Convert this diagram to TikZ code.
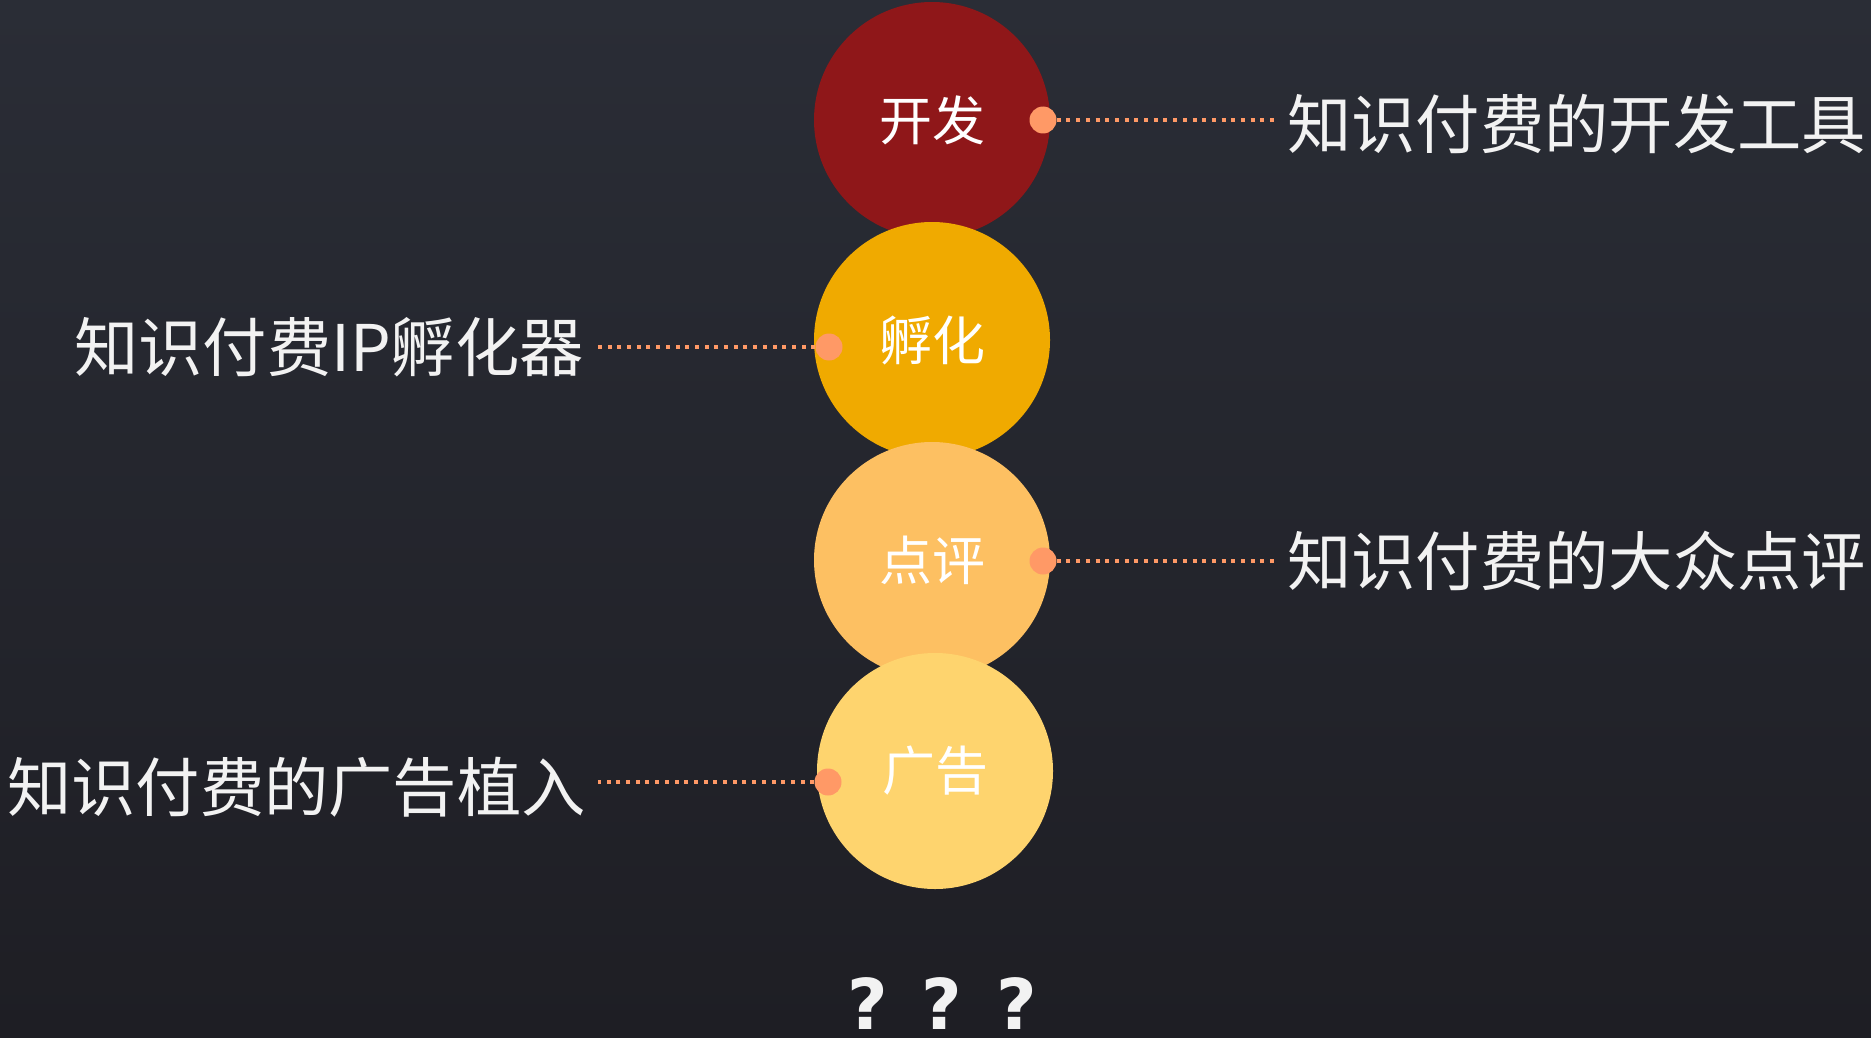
\documentclass[tikz,border=0pt]{standalone}
\usepackage{fontspec}
\setmainfont{Noto Sans CJK SC}
\newfontfamily\qfont{DejaVu Sans Bold}
\definecolor{bgtop}{RGB}{42,45,54}
\definecolor{bgbot}{RGB}{30,30,36}
\definecolor{cred}{RGB}{143,23,25}
\definecolor{corange}{RGB}{240,170,0}
\definecolor{clight}{RGB}{253,192,98}
\definecolor{cpale}{RGB}{254,212,110}
\definecolor{cdot}{RGB}{255,153,102}
\definecolor{ctext}{RGB}{242,242,242}
\tikzset{
  bubble/.style={circle,minimum size=236pt,inner sep=0pt,text=white,font=\fontsize{53}{53}\selectfont},
  pin/.style={circle,fill=cdot,minimum size=27pt,inner sep=0pt},
  side/.style={inner sep=0pt,text=ctext,font=\fontsize{64.3}{64.3}\selectfont},
  link/.style={cdot,line width=4pt,dash pattern=on 4pt off 5.7pt},
}
\begin{document}
\begin{tikzpicture}[x=1pt,y=-1pt]
\shade[top color=bgtop,bottom color=bgbot] (0,0) rectangle (1871,1038);
\useasboundingbox (0,0) rectangle (1871,1038);
% circles
\node[bubble,fill=cred] (c1) at (932,120) {开发};
\node[bubble,fill=corange] (c2) at (932,340) {孵化};
\node[bubble,fill=clight] (c3) at (932,560) {点评};
\node[bubble,fill=cpale] (c4) at (935,771) {广告};
% pins
\node[pin] (d1) at (1043,120) {};
\node[pin] (d2) at (829,347) {};
\node[pin] (d3) at (1043,561) {};
\node[pin] (d4) at (828,782) {};
% side texts
\node[side,anchor=west] (t1) at (1287,124) {知识付费的开发工具};
\node[side,anchor=east] (t2) at (584,347) {知识付费IP孵化器};
\node[side,anchor=west] (t3) at (1287,561) {知识付费的大众点评};
\node[side,anchor=east] (t4) at (586,787) {知识付费的广告植入};
% connectors
\draw[link,shorten >=12pt] (d1.east) -- (d1.east -| t1.west);
\draw[link,shorten >=12pt] (d2.west) -- (d2.west -| t2.east);
\draw[link,shorten >=12pt] (d3.east) -- (d3.east -| t3.west);
\draw[link,shorten >=12pt] (d4.west) -- (d4.west -| t4.east);
% question marks
\node[text=ctext,inner sep=0pt,font=\qfont\fontsize{70}{70}\selectfont] (q) at (942,1004) {?\hspace{34pt}?\hspace{34pt}?};
\end{tikzpicture}
\end{document}
